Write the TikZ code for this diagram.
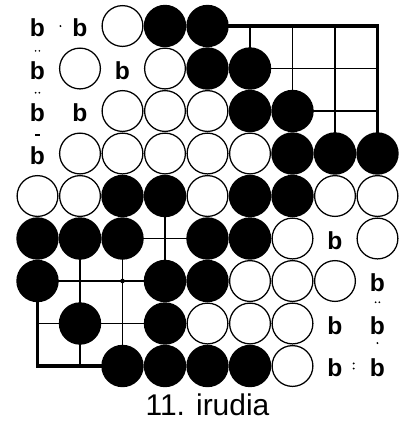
\documentclass[tikz,border=0pt]{standalone}
\usepackage{fontspec}
\setmainfont{Liberation Sans}
\usetikzlibrary{positioning}

\begin{document}
\begin{tikzpicture}[
  x=1.0625cm, y=-1.0625cm,
  whitestone/.style={circle, draw, line width=0.9pt, fill=white,
                     minimum size=1.02cm, inner sep=0pt},
  blackstone/.style={circle, fill=black, minimum size=1.06cm, inner sep=0pt},
  terr/.style={font=\bfseries\fontsize{17.5}{17.5}\selectfont, inner sep=0pt,
               yshift=-1.5pt},
  gridline/.style={line width=1.4pt},
  edgeline/.style={line width=2.6pt, line cap=rect, line join=miter},
  caption/.style={font=\fontsize{21.3}{22}\selectfont, inner sep=0pt, anchor=base}
]
  \useasboundingbox (0.1176,0.388) rectangle (9.624,10.341);

  % board lines, top right corner
  \draw[edgeline] (5,1) -- (9,1) -- (9,4);
  \draw[gridline] (6,1) -- (6,2) (7,1) -- (7,3) (8,1) -- (8,4);
  \draw[gridline] (6,2) -- (9,2) (7,3) -- (9,3);
  % middle point
  \draw[gridline] (3,6) -- (5,6) (4,5) -- (4,7);
  % bottom left corner
  \draw[edgeline] (1,7) -- (1,9) -- (3,9);
  \draw[gridline] (2,6) -- (2,9) (3,6) -- (3,9);
  \draw[gridline] (1,7) -- (4,7) (1,8) -- (4,8);
  \fill (3,7) circle (0.055);

  % stones
  \foreach \c/\r in {3/1, 2/2,4/2, 3/3,4/3,5/3, 2/4,3/4,4/4,5/4,6/4,
                     1/5,2/5,5/5,8/5,9/5, 7/6,9/6, 6/7,7/7,8/7,
                     5/8,6/8,7/8, 7/9}
    \node[whitestone] (w-\c-\r) at (\c,\r) {};
  \foreach \c/\r in {4/1,5/1, 5/2,6/2, 6/3,7/3, 7/4,8/4,9/4,
                     3/5,4/5,6/5,7/5, 1/6,2/6,3/6,5/6,6/6,
                     1/7,4/7,5/7, 2/8,4/8, 3/9,4/9,5/9,6/9}
    \node[blackstone] (k-\c-\r) at (\c,\r) {};

  % territory
  \foreach \c/\r in {1/1,2/1,1/2,3/2,1/3,2/3,1/4,8/6,9/7,8/8,9/8,8/9,9/9}
    \node[terr] (b-\c-\r) at (\c,\r) {b};

  % small marks between the points
  \fill (1.54,1.0) circle (0.025);
  \fill (0.955,1.585) circle (0.022) (1.045,1.585) circle (0.022);
  \fill (0.955,2.57) circle (0.022) (1.045,2.57) circle (0.022);
  \fill (0.93,3.55) rectangle (1.07,3.59);
  \fill (8.955,7.5) circle (0.022) (9.045,7.5) circle (0.022);
  \fill (9.0,8.46) circle (0.025);
  \fill (8.44,8.94) circle (0.025) (8.44,9.06) circle (0.025);

  \node[caption] (title) at (5,10.153) {11. irudia};
\end{tikzpicture}
\end{document}
